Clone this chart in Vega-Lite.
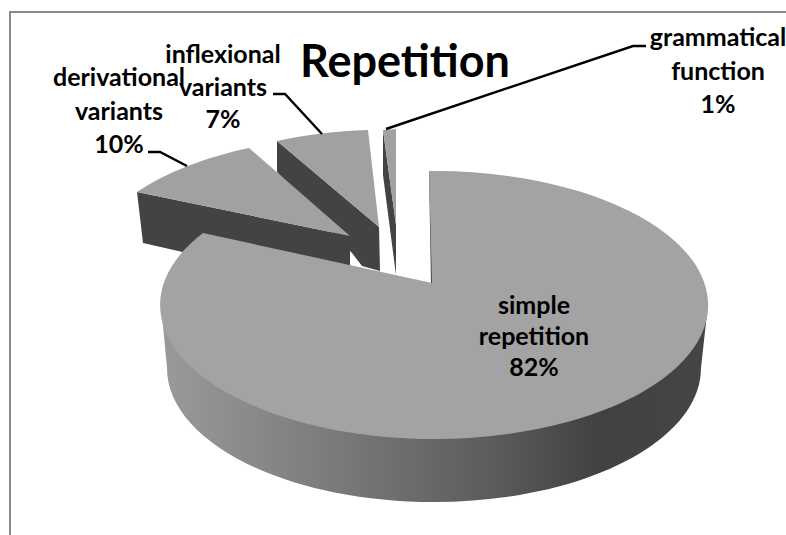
{
"$schema":"https://vega.github.io/schema/vega-lite/v6.json",
"width":786,"height":535,"padding":0,"autosize":{"type":"none"},
"background":"white",
"config":{"view":{"stroke":null}},
"data":{"values":[
{"slice":"simple repetition","share":82,"label":"simple\nrepetition\n82%"},
{"slice":"derivational variants","share":10,"label":"derivational\nvariants\n10%"},
{"slice":"inflexional variants","share":7,"label":"inflexional\nvariants\n7%"},
{"slice":"grammatical function","share":1,"label":"grammatical\nfunction\n1%"}
]},
"resolve":{"scale":{"shape":"independent"}},
"layer":[
{"transform":[{"filter":"datum.slice === 'simple repetition'"}],
 "mark":{"type":"point","filled":false,"stroke":"#8a8a8a","strokeWidth":2,"opacity":1,"size":4,"shape":"M-383,267.5 L-383,-255.5 L393,-255.5"}},
{"transform":[{"filter":"datum.slice !== 'simple repetition'"}],
 "mark":{"type":"point","filled":true,"fill":"#434343","stroke":null,"opacity":1,"size":4},
 "encoding":{"shape":{"field":"slice","type":"nominal","legend":null,"scale":{"domain":["derivational variants","inflexional variants","grammatical function"],"range":[
   "M-256,-75.5 L-43,-31.5 L-43,22.5 L-250,-24.5 Z",
   "M-116,-126.5 L-14,-40.5 L-13,3.5 L-31,-1.5 L-41,-14.5 L-116,-95.5 Z",
   "M-10,-137.5 L3,-42.5 L3,7.5 L-10,-92.5 Z"]}}}},
{"transform":[{"filter":"datum.slice !== 'simple repetition'"}],
 "mark":{"type":"point","filled":true,"fill":"#a1a1a1","stroke":null,"opacity":1,"size":4},
 "encoding":{"shape":{"field":"slice","type":"nominal","legend":null,"scale":{"domain":["derivational variants","inflexional variants","grammatical function"],"range":[
   "M-43,-31.5 L-256,-75.5 A274,134 0 0 1 -144,-119.5 Z",
   "M-14,-40.5 L-116,-126.5 A274,134 0 0 1 -25,-137.5 Z",
   "M3,-42.5 L-10,-137.5 L3,-138.5 Z"]}}}},
{"transform":[{"filter":"datum.slice === 'simple repetition'"}],
 "mark":{"type":"point","filled":true,"stroke":null,"opacity":1,"size":4,"shape":"M-232,36.5 L-226,100.5 A267,134 0 0 0 308,100.5 L315,36.5 Z",
  "fill":{"gradient":"linear","x1":0,"y1":0,"x2":1,"y2":0,"stops":[{"offset":0,"color":"#9a9a9a"},{"offset":0.3,"color":"#7c7c7c"},{"offset":0.6,"color":"#5c5c5c"},{"offset":0.8,"color":"#414141"},{"offset":1,"color":"#454545"}]}}},
{"transform":[{"filter":"datum.slice === 'simple repetition'"}],
 "mark":{"type":"point","filled":true,"fill":"#434343","stroke":null,"opacity":1,"size":4,"shape":"M36,-96.5 L37,-96.5 L41,16.5 L38,16.5 Z"}},
{"transform":[{"filter":"datum.slice === 'simple repetition'"}],
 "mark":{"type":"point","filled":true,"fill":"#a3a3a3","stroke":null,"opacity":1,"size":4,"shape":"M39,15.5 L36,-96.5 A274,134 0 1 1 -190,-34.5 Z"}},
{"transform":[{"filter":"datum.slice !== 'simple repetition'"}],
 "mark":{"type":"point","filled":false,"stroke":"#000000","strokeWidth":2.4,"opacity":1,"size":4},
 "encoding":{"shape":{"field":"slice","type":"nominal","legend":null,"scale":{"domain":["derivational variants","inflexional variants","grammatical function"],"range":[
   "M-245,-115.5 L-233,-115.5 L-206,-101.5",
   "M-120,-173.5 L-108,-173.5 L-71,-133.5",
   "M253,-221.5 L240,-221.5 L-7,-138.5"]}}}},
{"transform":[{"filter":"datum.slice === 'simple repetition'"}],
 "mark":{"type":"text","font":"Lato","fontWeight":"bold","fontSize":45,"align":"center","baseline":"alphabetic","fill":"#000000","dx":12,"dy":-190.5},
 "encoding":{"text":{"value":"Repetition"}}},
{"transform":[{"filter":"datum.slice === 'simple repetition'"}],
 "mark":{"type":"text","font":"Lato","fontWeight":"bold","fontSize":25,"lineHeight":31,"lineBreak":"\n","align":"center","baseline":"middle","fill":"#000000","dx":141,"dy":38.5},
 "encoding":{"text":{"field":"label"}}},
{"transform":[{"filter":"datum.slice === 'derivational variants'"}],
 "mark":{"type":"text","font":"Lato","fontWeight":"bold","fontSize":25,"lineHeight":33.5,"lineBreak":"\n","align":"center","baseline":"middle","fill":"#000000","dx":-274,"dy":-189.5},
 "encoding":{"text":{"field":"label"}}},
{"transform":[{"filter":"datum.slice === 'inflexional variants'"}],
 "mark":{"type":"text","font":"Lato","fontWeight":"bold","fontSize":25,"lineHeight":32.5,"lineBreak":"\n","align":"center","baseline":"middle","fill":"#000000","dx":-170,"dy":-212.5},
 "encoding":{"text":{"field":"label"}}},
{"transform":[{"filter":"datum.slice === 'grammatical function'"}],
 "mark":{"type":"text","font":"Lato","fontWeight":"bold","fontSize":25,"lineHeight":33.5,"lineBreak":"\n","align":"center","baseline":"middle","fill":"#000000","dx":325,"dy":-229.5},
 "encoding":{"text":{"field":"label"}}}
]
}
